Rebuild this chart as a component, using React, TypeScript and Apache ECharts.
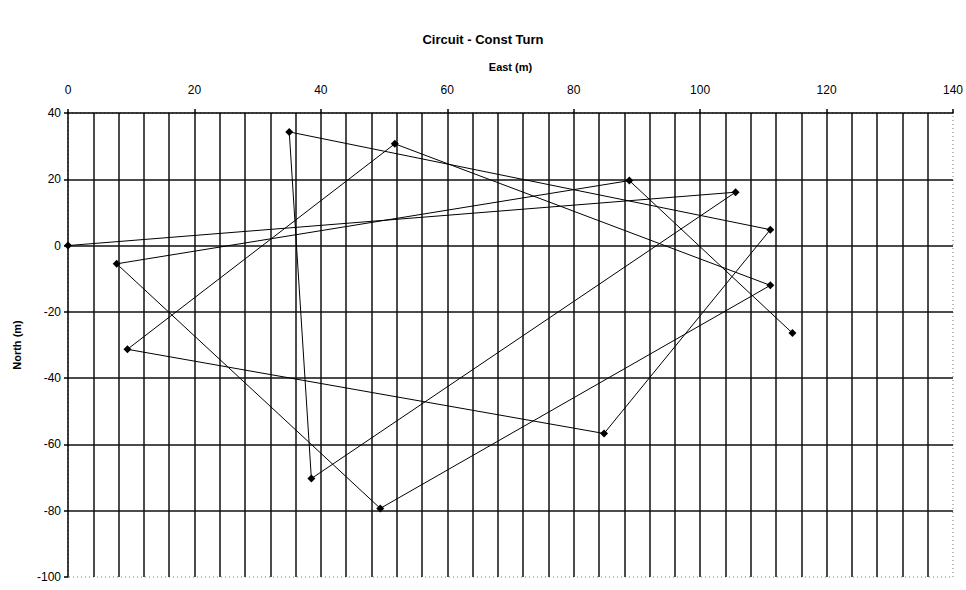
import React, { useEffect, useRef } from "react";
import * as echarts from "echarts";

const title = "Circuit - Const Turn";
const xName = "East (m)";
const yName = "North (m)";

// Path of the circuit, in drawing order
const eastValues = [0, 105.6, 38.5, 35.0, 111.1, 84.8, 9.4, 51.7, 111.1, 49.4, 7.7, 88.8, 114.6];
const northValues = [0, 16.1, -70.3, 34.3, 4.8, -56.7, -31.3, 30.7, -12.0, -79.3, -5.5, 19.6, -26.4];

const xMin = 0;
const xMax = 140;
const xStep = 20;
const yMin = -100;
const yMax = 40;
const yStep = 20;

export default function App() {
  const ref = useRef<HTMLDivElement>(null);

  useEffect(() => {
    if (!ref.current) return;
    const chart = echarts.init(ref.current, null, { renderer: "svg" });
    const data = eastValues.map((x, i) => [x, northValues[i]]);
    const font = "Liberation Sans, Arial, sans-serif";
    chart.setOption({
      animation: false,
      backgroundColor: "#ffffff",
      title: {
        text: title,
        left: "center",
        top: 28,
        textStyle: { fontFamily: font, fontSize: 13, fontWeight: "bold", color: "#000" },
      },
      grid: {
        left: 68,
        right: 9,
        top: 113,
        bottom: 13,
        show: true,
        borderColor: "#777",
        borderWidth: 1,
        borderType: [1, 3],
      },
      xAxis: {
        type: "value",
        position: "top",
        min: xMin,
        max: xMax,
        interval: xStep,
        name: xName,
        nameLocation: "middle",
        nameGap: 41,
        nameTextStyle: { fontFamily: font, fontSize: 11, fontWeight: "bold", color: "#000" },
        axisLine: { show: true, onZero: false, lineStyle: { color: "#000", width: 1.5 } },
        axisTick: { show: true, length: 4, lineStyle: { color: "#000", width: 1.5 } },
        axisLabel: { fontFamily: font, fontSize: 12, color: "#000", margin: 17 },
        splitLine: {
          show: true,
          showMaxLine: false,
          showMinLine: false,
          lineStyle: { color: "#111", width: 1.5 },
        },
        minorTick: { show: false, splitNumber: 5 },
        minorSplitLine: { show: true, lineStyle: { color: "#111", width: 1.5 } },
      },
      yAxis: {
        type: "value",
        min: yMin,
        max: yMax,
        interval: yStep,
        name: yName,
        nameLocation: "middle",
        nameGap: 46,
        nameRotate: 90,
        nameTextStyle: { fontFamily: font, fontSize: 11, fontWeight: "bold", color: "#000" },
        axisLine: { show: true, onZero: false, lineStyle: { color: "#000", width: 1.5 } },
        axisTick: { show: true, length: 4, lineStyle: { color: "#000", width: 1.5 } },
        axisLabel: { fontFamily: font, fontSize: 12, color: "#000", margin: 7 },
        splitLine: {
          show: true,
          showMinLine: false,
          showMaxLine: false,
          lineStyle: { color: "#111", width: 1.5 },
        },
      },
      series: [
        {
          type: "line",
          data,
          symbol: "diamond",
          symbolSize: 8,
          itemStyle: { color: "#000" },
          lineStyle: { color: "#000", width: 1 },
          z: 5,
        },
      ],
    });
    return () => chart.dispose();
  }, []);

  return (
    <div
      ref={ref}
      style={{ position: "fixed", left: 0, top: 0, width: 966, height: 590, background: "#fff" }}
    />
  );
}
